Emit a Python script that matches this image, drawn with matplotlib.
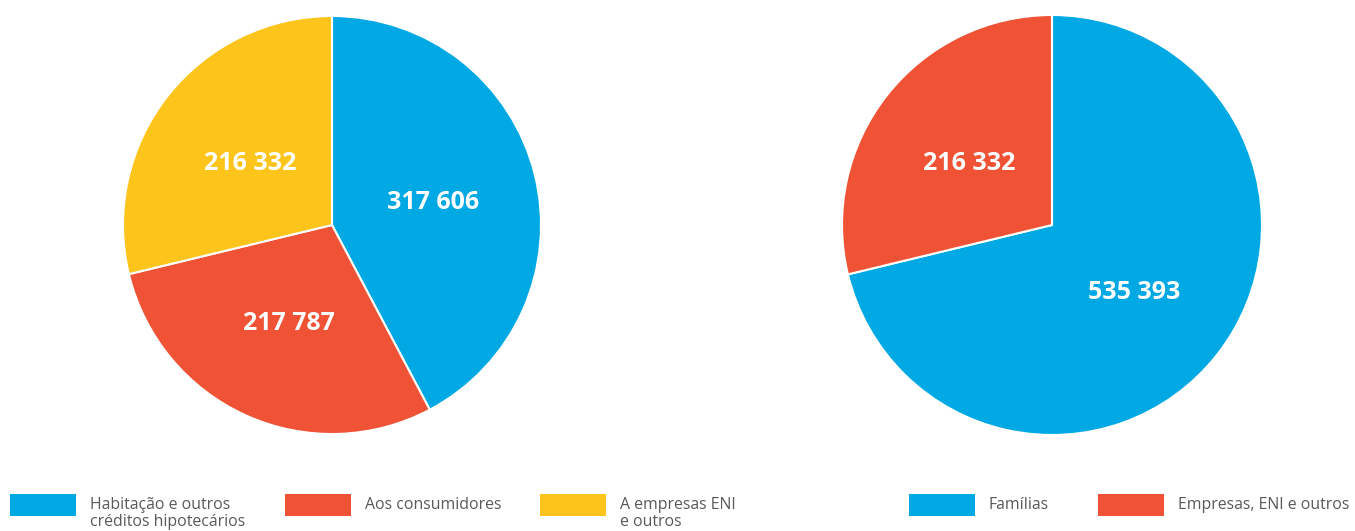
import matplotlib
matplotlib.use("Agg")
import matplotlib.pyplot as plt
from matplotlib.patches import Rectangle
from matplotlib.transforms import offset_copy

plt.rcParams['font.family'] = ['Open Sans', 'DejaVu Sans']

# Credit by purpose
purpose_labels = ["Habitação e outros\ncréditos hipotecários", "Aos consumidores", "A empresas ENI\ne outros"]
purpose_values = [317606, 217787, 216332]
purpose_colors = ["#00A8E4", "#F05235", "#FDC41B"]

# Credit by borrower
borrower_labels = ["Famílias", "Empresas, ENI e outros"]
borrower_values = [535393, 216332]
borrower_colors = ["#00A8E4", "#F05235"]

W, H = 1355, 531
fig = plt.figure(figsize=(W / 100, H / 100), dpi=100)


def fmt(v):
    return f"{v:,}".replace(",", " ")


def draw_pie(cx, cy, r, values, colors):
    ax = fig.add_axes([(cx - r) / W, 1 - (cy + r) / H, 2 * r / W, 2 * r / H])
    _, texts = ax.pie(
        values, colors=colors, startangle=90, counterclock=False,
        labels=[fmt(v) for v in values], labeldistance=0.5,
        wedgeprops=dict(edgecolor="white", linewidth=1.5),
        textprops=dict(color="white", fontsize=18, fontweight="bold",
                       ha="center", va="center"),
    )
    ax.set_xlim(-1.0, 1.0)
    ax.set_ylim(-1.0, 1.0)
    ax.axis("off")
    for t in texts:
        t.set_transform(offset_copy(ax.transData, fig=fig, x=0, y=-3,
                                    units="dots"))
    return ax


draw_pie(332, 225, 209, purpose_values, purpose_colors)
draw_pie(1052, 225, 210, borrower_values, borrower_colors)


def legend_item(x, label, color):
    fig.add_artist(Rectangle((x / W, 1 - 516 / H), 66 / W, 22 / H,
                             transform=fig.transFigure, facecolor=color,
                             edgecolor="none"))
    fig.text((x + 80) / W, 1 - 497 / H, label, ha="left", va="top",
             fontsize=11.4, color="#595959", linespacing=1.12)


for x, lab, col in zip([10, 285, 540], purpose_labels, purpose_colors):
    legend_item(x, lab, col)
for x, lab, col in zip([909, 1098], borrower_labels, borrower_colors):
    legend_item(x, lab, col)

fig.savefig("out.png", dpi=100, facecolor="white")
